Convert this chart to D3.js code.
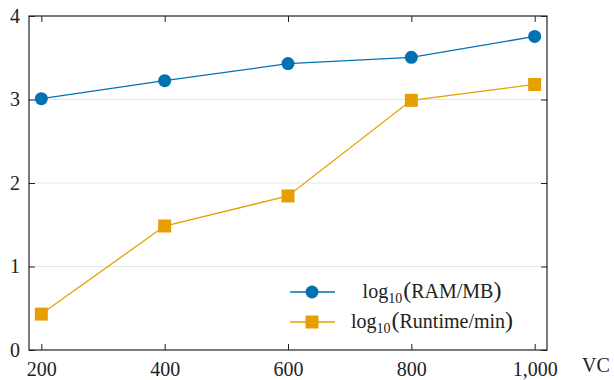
<!DOCTYPE html>
<html>
<head>
<meta charset="utf-8">
<script src="https://cdn.jsdelivr.net/npm/d3@7"></script>
</head>
<body style="margin:0">
<svg id="chart" width="614" height="380"></svg>
<script>
const vcValues = [200, 400, 600, 800, 1000];
const ramLog = [3.01, 3.225, 3.43, 3.505, 3.755];
const runtimeLog = [0.43, 1.485, 1.845, 2.99, 3.18];
const xTicks = [200, 400, 600, 800, 1000];
const yTicks = [0, 1, 2, 3, 4];

const width = 614, height = 380;
const margin = { top: 16, right: 67, bottom: 30, left: 29 };
const innerW = width - margin.left - margin.right;
const innerH = height - margin.top - margin.bottom;

const blue = '#0072b2';
const orange = '#e69f00';
const serif = "'Liberation Serif'";

const svg = d3.select('#chart');

const g = svg.append('g').attr('transform', `translate(${margin.left},${margin.top})`);

const x = d3.scaleLinear().domain([180, 1020]).range([0, innerW]);
const y = d3.scaleLinear().domain([0, 4]).range([innerH, 0]);

// grid
g.selectAll('.grid').data([1, 2, 3]).enter().append('line')
  .attr('x1', 0).attr('x2', innerW)
  .attr('y1', d => y(d)).attr('y2', d => y(d))
  .attr('stroke', '#e6e6e6').attr('stroke-width', 1);

// axes: inner ticks, mirrored
const tickLen = 6;
const bottomAxis = d3.axisBottom(x).tickValues(xTicks).tickSize(-tickLen).tickPadding(9)
  .tickFormat(d3.format(','));
const topAxis = d3.axisTop(x).tickValues(xTicks).tickSize(-tickLen).tickFormat('');
const leftAxis = d3.axisLeft(y).tickValues(yTicks).tickSize(-tickLen).tickPadding(9)
  .tickFormat(d3.format('d'));
const rightAxis = d3.axisRight(y).tickValues(yTicks).tickSize(-tickLen).tickFormat('');

function styleAxis(sel) {
  sel.attr('font-family', null).attr('font-size', null);
  sel.select('.domain').remove();
  sel.selectAll('line').attr('stroke', '#222').attr('stroke-width', 1);
  sel.selectAll('text')
    .style('font-family', serif).style('font-size', '20px')
    .attr('fill', '#222');
}

g.append('g').attr('transform', `translate(0,${innerH})`).call(bottomAxis).call(styleAxis)
  .selectAll('text').attr('dy', '0.85em');
g.append('g').call(topAxis).call(styleAxis);
g.append('g').call(leftAxis).call(styleAxis);
g.append('g').attr('transform', `translate(${innerW},0)`).call(rightAxis).call(styleAxis);

// frame
g.append('rect')
  .attr('x', 0).attr('y', 0).attr('width', innerW).attr('height', innerH)
  .attr('fill', 'none').attr('stroke', '#222').attr('stroke-width', 1.2);

// axis label
svg.append('text')
  .attr('x', 596).attr('y', 372)
  .attr('text-anchor', 'middle')
  .attr('fill', '#222')
  .style('font-family', serif).style('font-size', '20px')
  .text('VC');

const line = d3.line().x(d => x(d[0])).y(d => y(d[1]));

const ramData = vcValues.map((v, i) => [v, ramLog[i]]);
const runData = vcValues.map((v, i) => [v, runtimeLog[i]]);

g.append('path').datum(ramData).attr('d', line)
  .attr('fill', 'none').attr('stroke', blue).attr('stroke-width', 1.3);
g.selectAll('.ramPt').data(ramData).enter().append('circle')
  .attr('cx', d => x(d[0])).attr('cy', d => y(d[1])).attr('r', 6.5)
  .attr('fill', blue);

g.append('path').datum(runData).attr('d', line)
  .attr('fill', 'none').attr('stroke', orange).attr('stroke-width', 1.3);
const sq = 13;
g.selectAll('.runPt').data(runData).enter().append('rect')
  .attr('x', d => x(d[0]) - sq / 2).attr('y', d => y(d[1]) - sq / 2)
  .attr('width', sq).attr('height', sq)
  .attr('fill', orange);

// legend
const legendItems = [
  { label: 'RAM/MB', color: blue, shape: 'circle', y: 292 },
  { label: 'Runtime/min', color: orange, shape: 'square', y: 322 }
];
legendItems.forEach(item => {
  svg.append('line')
    .attr('x1', 290).attr('x2', 335).attr('y1', item.y).attr('y2', item.y)
    .attr('stroke', item.color).attr('stroke-width', 1.3);
  if (item.shape === 'circle') {
    svg.append('circle').attr('cx', 312).attr('cy', item.y).attr('r', 6.5).attr('fill', item.color);
  } else {
    svg.append('rect').attr('x', 312 - sq / 2).attr('y', item.y - sq / 2)
      .attr('width', sq).attr('height', sq).attr('fill', item.color);
  }
  const t = svg.append('text')
    .attr('x', 432).attr('y', item.y + 6)
    .attr('text-anchor', 'middle')
    .attr('fill', '#222')
    .style('font-family', serif).style('font-size', '20px');
  t.append('tspan').text('log');
  t.append('tspan').attr('dy', 5).style('font-size', '14px').text('10');
  t.append('tspan').attr('dy', -5).attr('dx', 1).style('font-size', '24px').text('(');
  t.append('tspan').text(item.label);
  t.append('tspan').style('font-size', '24px').text(')');
});
</script>
</body>
</html>
